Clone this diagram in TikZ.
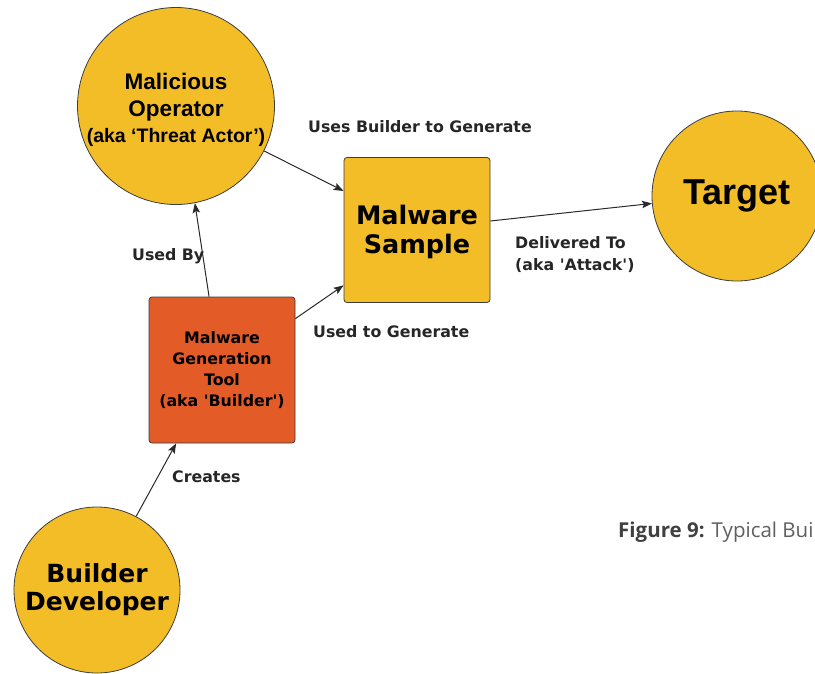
\documentclass[tikz,border=0pt]{standalone}
\usepackage{fontspec}
\setmainfont{Liberation Sans}
\newfontfamily\lucida{DejaVu Sans}
\newfontfamily\opensans{Open Sans}
\usetikzlibrary{arrows.meta}
\definecolor{gold}{RGB}{243,189,40}
\definecolor{rust}{RGB}{227,91,38}
\definecolor{rim}{RGB}{60,60,60}
\definecolor{capgray}{RGB}{95,95,95}
\begin{document}
\begin{tikzpicture}[x=1pt,y=-1pt,
  actor/.style={circle,draw=rim,line width=0.8pt,fill=gold,inner sep=0pt,align=center},
  thing/.style={rectangle,rounded corners=3pt,draw=rim,line width=0.8pt,inner sep=0pt,align=center,
    minimum width=146pt,minimum height=145pt},
  link/.style={-{Stealth[length=10pt,width=7.5pt,inset=2pt]},line width=1pt,draw=rim!70!black},
  tag/.style={font=\lucida\bfseries\fontsize{15.8}{22}\selectfont,text=black!85,inner sep=0pt,anchor=base west,align=left}]

  \clip (0,0) rectangle (815,673);

  % people and targets
  \node [actor, minimum size=197pt, font=\bfseries\fontsize{22.5}{26.5}\selectfont] (op) at (176,106)
    {\rule{0pt}{25pt}Malicious\\Operator\\{\fontsize{19.5}{26.5}\selectfont (aka ‘Threat Actor’)}};
  \node [actor, minimum size=170pt, font=\bfseries\fontsize{36}{40}\selectfont] (target) at (737,196) {Target};
  \node [actor, minimum size=166pt, font=\lucida\bfseries\fontsize{25}{28}\selectfont] (dev) at (97,590)
    {Builder\\Developer};

  % tools and samples
  \node [thing, fill=gold, font=\lucida\bfseries\fontsize{25.5}{29}\selectfont] (sample) at (417,230)
    {\rule{0pt}{24pt}Malware\\Sample};
  \node [thing, fill=rust, minimum height=146pt, font=\lucida\bfseries\fontsize{15.8}{20.7}\selectfont] (tool) at (222,370)
    {Malware\\Generation\\Tool\\(aka \textquotesingle Builder\textquotesingle)};

  % relations
  \draw [link] (op.-27) -- (sample.152);
  \draw [link] (tool.100) -- (op.-79);
  \draw [link] (tool.35) -- (sample.217);
  \draw [link] (sample.7) -- (target.185);
  \draw [link] (dev.62) -- (tool.238);

  % labels
  \node [tag] (usesbuilder) at (308,132) {Uses Builder to Generate};
  \node [tag] (usedby) at (132,260) {Used By};
  \node [tag] (usedto) at (313,337) {Used to Generate};
  \node [tag] (delivered) at (515,270) {Delivered To\\(aka \textquotesingle Attack\textquotesingle)};
  \node [tag] (creates) at (172,482) {Creates};

  % caption
  \node [anchor=base west, inner sep=0pt, text=capgray, font=\opensans\fontsize{20.5}{24}\selectfont] (caption) at (618,537)
    {\textcolor{black!75}{\bfseries Figure 9:} Typical Bui};

\end{tikzpicture}
\end{document}
